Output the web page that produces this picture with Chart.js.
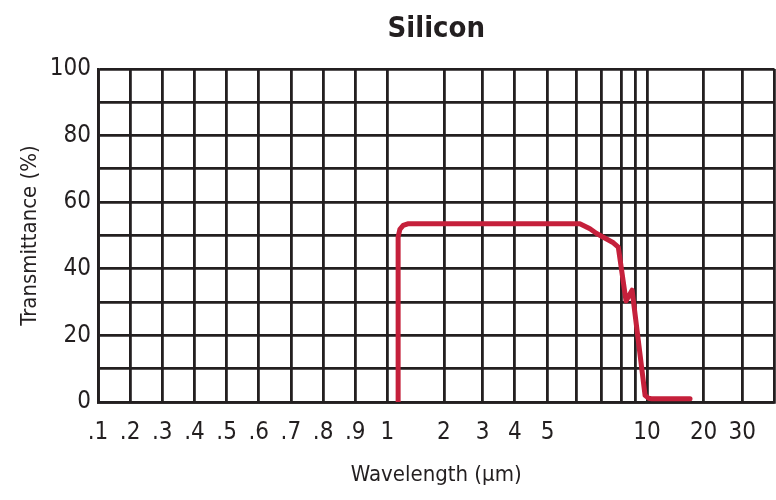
<!DOCTYPE html>
<html>
<head>
<meta charset="utf-8">
<title>Silicon</title>
<script src="https://cdn.jsdelivr.net/npm/chart.js@4.4.1/dist/chart.umd.min.js"></script>
<style>
  html, body { margin: 0; padding: 0; background: #fff; }
  #chart { display: block; }
</style>
</head>
<body>
<canvas id="chart" width="776" height="500"></canvas>
<script>
    "use strict";

    // Data
    var wavelength    = [1.19, 1.19, 1.22, 1.28, 1.36, 6.14, 6.55, 6.82, 7.6, 7.84, 8.32, 8.75, 9.83, 10.3, 10.8, 17.6];
    var transmittance = [0,    49.5, 51.8, 53.0, 53.5, 53.5, 52.0, 50.6, 47.8, 46.5, 30.3, 33.6, 2.0,  1.1,  1.0,  1.0];

    // Axis gridlines and labels
    var gridValues  = [0.1, 0.2, 0.3, 0.4, 0.5, 0.6, 0.7, 0.8, 0.9, 1, 2, 3, 4, 5, 6, 7, 8, 9, 10, 20, 30, 40];
    var xLabels     = [0.1, 0.2, 0.3, 0.4, 0.5, 0.6, 0.7, 0.8, 0.9, 1, 2, 3, 4, 5, 10, 20, 30];
    var yLabels     = [0, 20, 40, 60, 80, 100];

    var ink = "#231f20";
    var red = "#c5203b";
    var font = "'Liberation Sans Narrow', 'DejaVu Sans Condensed', 'Arial Narrow', sans-serif";

    // The wavelength axis of the original is hand drawn: .1 to 1 is linear,
    // each decade above 1 has its own uneven spacing.
    var LIN_SPAN = 1.1145;
    var DECADE = [0, 0.218, 0.367, 0.491, 0.617, 0.728, 0.823, 0.902, 0.956, 1];

    function warp(v) {
        if (v <= 1) return (v - 0.1) / 0.9 * LIN_SPAN;
        var d = 0, m = v;
        while (m >= 10) { m /= 10; d++; }
        var i = Math.min(Math.floor(m), 9);
        var f = DECADE[i - 1] + (m - i) * (DECADE[i] - DECADE[i - 1]);
        return LIN_SPAN + d + f;
    }

    class WarpScale extends Chart.Scale {
        determineDataLimits() {
            this.min = gridValues[0];
            this.max = gridValues[gridValues.length - 1];
        }
        buildTicks() {
            return gridValues.map(function (v) { return {value: v}; });
        }
        getLabelForValue(v) {
            return String(v);
        }
        getPixelForValue(v) {
            return this.getPixelForDecimal((warp(v) - warp(this.min)) / (warp(this.max) - warp(this.min)));
        }
        getValueForPixel(p) {
            var t = this.getDecimalForPixel(p), lo = this.min, hi = this.max;
            var target = warp(lo) + t * (warp(hi) - warp(lo));
            for (var k = 0; k < 40; k++) {
                var mid = (lo + hi) / 2;
                if (warp(mid) < target) lo = mid; else hi = mid;
            }
            return (lo + hi) / 2;
        }
    }
    WarpScale.id = "warp";
    WarpScale.defaults = {};
    Chart.register(WarpScale);

    var points = wavelength.map(function (w, i) {
        return {x: w, y: transmittance[i]};
    });

    var ctx = document.getElementById("chart").getContext("2d");
    var myChart = new Chart(ctx, {
        type: "line",
        data: {
            datasets: [{
                label: "Silicon",
                data: points,
                borderColor: red,
                borderWidth: 5,
                borderJoinStyle: "round",
                borderCapStyle: "round",
                pointRadius: 0,
                tension: 0,
                fill: false
            }]
        },
        options: {
            responsive: false,
            animation: false,
            devicePixelRatio: 1,
            layout: {padding: {right: 1.5}},
            plugins: {
                legend: {display: false},
                tooltip: {enabled: false},
                title: {
                    display: true,
                    text: "Silicon",
                    color: ink,
                    fullSize: false,
                    font: {family: font, size: 29, weight: "bold", lineHeight: 1.1},
                    padding: {top: 14, bottom: 23}
                }
            },
            scales: {
                x: {
                    type: "warp",
                    grid: {color: ink, lineWidth: 2.8, drawTicks: false},
                    border: {color: ink, width: 2.8},
                    ticks: {
                        color: ink,
                        autoSkip: false,
                        maxRotation: 0,
                        padding: 16,
                        font: {family: font, size: 24},
                        callback: function (v) {
                            if (xLabels.indexOf(v) < 0) return "";
                            return v < 1 ? String(v).replace("0.", ".") : String(v);
                        }
                    },
                    title: {
                        display: true,
                        text: "Wavelength (µm)",
                        color: ink,
                        font: {family: font, size: 22},
                        padding: {top: 4, bottom: 12}
                    },
                    afterFit: function (scale) {
                        scale.height = 98;
                        scale.paddingLeft = 0;
                        scale.paddingRight = 0;
                    }
                },
                y: {
                    min: 0,
                    max: 100,
                    grid: {color: ink, lineWidth: 2.8, drawTicks: false},
                    border: {color: ink, width: 2.8},
                    ticks: {
                        stepSize: 10,
                        autoSkip: false,
                        color: ink,
                        padding: 7,
                        font: {family: font, size: 24},
                        callback: function (v) {
                            return yLabels.indexOf(v) < 0 ? "" : v;
                        }
                    },
                    title: {
                        display: true,
                        text: "Transmittance (%)",
                        color: ink,
                        font: {family: font, size: 22},
                        padding: {top: 17, bottom: 0}
                    },
                    afterFit: function (scale) { scale.width = 98; }
                }
            }
        }
    });
</script>
</body>
</html>
